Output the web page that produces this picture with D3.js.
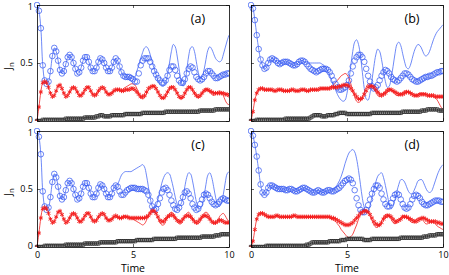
<!DOCTYPE html>
<html><head><meta charset="utf-8">
<script src="https://cdn.jsdelivr.net/npm/d3@7"></script>
<style>
body{margin:0;background:#fff;}
text{font-family:"Open Sans","Noto Sans",sans-serif;}
</style>
</head><body>
<svg id="chart" width="449" height="275"></svg>
<script>
// ---------- data ----------
const timeStep = 0.1;           // samples at t = 0, 0.1, ..., 10
const xDomain = [0, 10];
const yDomain = [0, 1];
const xTicks = [0, 5, 10];
const yTicks = [0, 0.5, 1];
const yTickLabels = ["0", "0.5", "1"];
const panelLabels = ["(a)", "(b)", "(c)", "(d)"];
const xLabel = "Time";

// panel (a)
const circA = [
1.00,0.95,0.80,0.48,0.35,0.32,0.34,0.43,0.56,0.63,
0.60,0.52,0.44,0.41,0.43,0.49,0.55,0.57,0.55,0.50,
0.45,0.41,0.42,0.46,0.52,0.55,0.55,0.51,0.46,0.43,
0.43,0.46,0.51,0.54,0.53,0.50,0.46,0.43,0.43,0.46,
0.51,0.54,0.52,0.47,0.42,0.39,0.38,0.38,0.38,0.37,
0.36,0.34,0.34,0.41,0.48,0.52,0.54,0.54,0.54,0.51,
0.47,0.43,0.40,0.37,0.35,0.33,0.33,0.35,0.39,0.44,
0.47,0.47,0.44,0.39,0.35,0.33,0.33,0.36,0.41,0.45,
0.47,0.46,0.42,0.38,0.36,0.35,0.36,0.38,0.41,0.43,
0.43,0.41,0.39,0.37,0.37,0.38,0.39,0.40,0.40,0.41,
0.41];
const starA = [
0.00,0.12,0.25,0.33,0.34,0.33,0.29,0.24,0.21,0.22,
0.26,0.30,0.31,0.28,0.24,0.21,0.22,0.25,0.28,0.29,
0.28,0.25,0.22,0.22,0.24,0.27,0.29,0.29,0.26,0.23,
0.22,0.23,0.26,0.28,0.29,0.28,0.25,0.23,0.23,0.24,
0.26,0.27,0.27,0.27,0.26,0.26,0.27,0.27,0.27,0.28,
0.28,0.27,0.25,0.23,0.21,0.21,0.22,0.25,0.28,0.29,
0.30,0.30,0.28,0.25,0.22,0.20,0.20,0.22,0.25,0.28,
0.29,0.29,0.27,0.24,0.21,0.20,0.21,0.24,0.27,0.29,
0.29,0.27,0.24,0.22,0.21,0.22,0.24,0.26,0.27,0.27,
0.26,0.25,0.24,0.24,0.24,0.24,0.24,0.24,0.23,0.23,
0.22];
const sqA = [
0.00,0.00,0.00,0.01,0.01,0.01,0.01,0.01,0.01,0.01,
0.01,0.01,0.01,0.01,0.01,0.02,0.02,0.02,0.02,0.02,
0.02,0.02,0.02,0.02,0.02,0.03,0.03,0.03,0.03,0.03,
0.03,0.04,0.04,0.05,0.05,0.04,0.04,0.04,0.04,0.05,
0.05,0.05,0.05,0.05,0.05,0.05,0.06,0.06,0.06,0.06,
0.06,0.06,0.06,0.06,0.06,0.07,0.07,0.07,0.07,0.07,
0.07,0.07,0.07,0.07,0.07,0.07,0.07,0.08,0.08,0.08,
0.08,0.08,0.08,0.08,0.08,0.08,0.08,0.08,0.08,0.08,
0.08,0.08,0.08,0.08,0.08,0.09,0.09,0.09,0.09,0.09,
0.09,0.09,0.09,0.10,0.10,0.10,0.10,0.10,0.10,0.10,
0.10];
const lineBlueA = circA.slice(0, 45).concat([
0.39,0.38,0.38,0.38,0.37,
0.37,0.38,0.43,0.48,0.54,0.59,0.63,0.64,0.62,0.57,
0.51,0.45,0.40,0.35,0.32,0.30,0.30,0.33,0.40,0.50,
0.60,0.66,0.64,0.56,0.45,0.35,0.30,0.33,0.44,0.56,
0.63,0.64,0.60,0.51,0.42,0.37,0.38,0.44,0.53,0.61,
0.64,0.62,0.58,0.54,0.52,0.51,0.52,0.57,0.63,0.69,
0.74]);
const lineRedA = starA.slice(0, 45).concat([
0.28,0.29,0.30,0.31,0.32,
0.32,0.31,0.28,0.24,0.20,0.19,0.20,0.23,0.27,0.29,
0.30,0.30,0.28,0.25,0.22,0.20,0.19,0.21,0.25,0.28,
0.30,0.29,0.27,0.24,0.21,0.19,0.20,0.23,0.27,0.29,
0.29,0.27,0.24,0.21,0.20,0.21,0.24,0.27,0.28,0.27,
0.25,0.23,0.22,0.23,0.25,0.26,0.25,0.22,0.18,0.15,
0.14]);

// panel (b)
const circB = [
1.00,0.97,0.87,0.74,0.62,0.53,0.48,0.45,0.46,0.50,
0.53,0.54,0.53,0.52,0.50,0.49,0.50,0.51,0.51,0.51,
0.50,0.49,0.48,0.48,0.49,0.51,0.52,0.52,0.51,0.49,
0.47,0.45,0.44,0.43,0.42,0.43,0.44,0.45,0.45,0.45,
0.44,0.42,0.39,0.35,0.32,0.29,0.27,0.27,0.28,0.29,
0.31,0.35,0.41,0.47,0.52,0.55,0.57,0.57,0.55,0.51,
0.45,0.39,0.34,0.30,0.28,0.29,0.31,0.35,0.39,0.42,
0.44,0.43,0.41,0.38,0.36,0.35,0.34,0.35,0.37,0.39,
0.41,0.41,0.40,0.38,0.36,0.35,0.34,0.34,0.35,0.36,
0.37,0.38,0.38,0.39,0.39,0.40,0.41,0.42,0.42,0.43,
0.43];
const starB = [
0.00,0.08,0.18,0.24,0.27,0.28,0.28,0.27,0.27,0.27,
0.27,0.27,0.26,0.26,0.27,0.27,0.27,0.26,0.26,0.26,
0.26,0.27,0.27,0.26,0.26,0.26,0.27,0.27,0.27,0.26,
0.26,0.27,0.27,0.27,0.27,0.27,0.28,0.28,0.28,0.28,
0.28,0.28,0.29,0.29,0.29,0.29,0.30,0.30,0.31,0.31,
0.31,0.30,0.28,0.26,0.23,0.21,0.19,0.19,0.20,0.23,
0.26,0.29,0.30,0.30,0.29,0.27,0.25,0.23,0.22,0.23,
0.24,0.26,0.27,0.27,0.26,0.25,0.24,0.23,0.23,0.23,
0.24,0.25,0.25,0.24,0.23,0.22,0.22,0.22,0.23,0.23,
0.23,0.23,0.22,0.22,0.22,0.22,0.21,0.21,0.21,0.21,
0.21];
const sqB = [
0.00,0.00,0.00,0.01,0.01,0.01,0.01,0.01,0.01,0.01,
0.01,0.01,0.01,0.01,0.01,0.01,0.01,0.01,0.02,0.02,
0.02,0.02,0.02,0.02,0.02,0.02,0.02,0.02,0.02,0.02,
0.02,0.03,0.04,0.05,0.05,0.05,0.05,0.04,0.04,0.04,
0.05,0.05,0.05,0.05,0.06,0.06,0.07,0.07,0.07,0.07,
0.06,0.06,0.06,0.06,0.06,0.06,0.06,0.06,0.06,0.06,
0.06,0.06,0.06,0.07,0.07,0.07,0.07,0.07,0.07,0.07,
0.07,0.07,0.07,0.07,0.07,0.07,0.07,0.07,0.07,0.08,
0.08,0.08,0.08,0.08,0.08,0.08,0.08,0.08,0.08,0.09,
0.09,0.09,0.10,0.10,0.10,0.10,0.10,0.10,0.09,0.09,
0.09];
const lineBlueB = circB.slice(0, 28).concat([
0.51,0.50,
0.50,0.50,0.50,0.50,0.50,0.50,0.50,0.49,0.48,0.46,
0.43,0.39,0.35,0.31,0.27,0.23,0.20,0.18,0.17,0.18,
0.24,0.35,0.48,0.60,0.68,0.70,0.66,0.56,0.42,0.28,
0.19,0.18,0.24,0.35,0.47,0.57,0.62,0.60,0.53,0.43,
0.34,0.29,0.30,0.37,0.47,0.58,0.66,0.68,0.65,0.58,
0.51,0.46,0.45,0.48,0.54,0.60,0.64,0.66,0.65,0.62,
0.58,0.56,0.57,0.60,0.65,0.70,0.74,0.77,0.79,0.81,
0.83]);
const lineRedB = starB.slice(0, 40).concat([
0.28,0.29,0.30,0.31,0.33,0.35,0.37,0.39,0.40,0.41,
0.40,0.37,0.32,0.26,0.21,0.17,0.16,0.17,0.20,0.25,
0.29,0.32,0.32,0.31,0.28,0.25,0.22,0.21,0.22,0.24,
0.26,0.28,0.28,0.27,0.25,0.23,0.22,0.22,0.23,0.25,
0.26,0.26,0.25,0.24,0.23,0.22,0.22,0.23,0.24,0.24,
0.24,0.23,0.22,0.21,0.21,0.21,0.20,0.18,0.15,0.12,
0.10]);

// panel (c)
const circC = [
1.00,0.95,0.80,0.48,0.35,0.32,0.34,0.43,0.56,0.63,
0.60,0.52,0.44,0.41,0.43,0.49,0.55,0.57,0.55,0.50,
0.45,0.41,0.42,0.46,0.52,0.55,0.55,0.51,0.46,0.43,
0.43,0.46,0.51,0.54,0.53,0.50,0.46,0.43,0.43,0.46,
0.51,0.53,0.52,0.48,0.45,0.45,0.47,0.49,0.50,0.51,
0.51,0.51,0.50,0.50,0.50,0.50,0.49,0.48,0.45,0.40,
0.35,0.32,0.33,0.37,0.42,0.47,0.50,0.51,0.49,0.45,
0.40,0.36,0.33,0.32,0.34,0.38,0.43,0.47,0.48,0.46,
0.42,0.37,0.34,0.32,0.33,0.37,0.41,0.45,0.46,0.45,
0.42,0.39,0.37,0.36,0.37,0.39,0.41,0.42,0.41,0.40,
0.40];
const starC = [
0.00,0.12,0.25,0.33,0.34,0.33,0.29,0.24,0.21,0.22,
0.26,0.30,0.31,0.28,0.24,0.21,0.22,0.25,0.28,0.29,
0.28,0.25,0.22,0.22,0.24,0.27,0.29,0.29,0.26,0.23,
0.22,0.23,0.26,0.28,0.29,0.28,0.25,0.23,0.23,0.24,
0.26,0.27,0.26,0.25,0.25,0.26,0.26,0.26,0.25,0.25,
0.25,0.25,0.25,0.25,0.25,0.25,0.25,0.26,0.27,0.29,
0.31,0.31,0.29,0.26,0.23,0.22,0.22,0.24,0.26,0.27,
0.28,0.27,0.25,0.23,0.22,0.22,0.24,0.26,0.27,0.27,
0.26,0.24,0.22,0.21,0.22,0.24,0.26,0.27,0.27,0.26,
0.24,0.22,0.21,0.21,0.22,0.23,0.23,0.22,0.21,0.21,
0.21];
const sqC = [
0.00,0.00,0.00,0.00,0.01,0.01,0.01,0.01,0.01,0.01,
0.01,0.01,0.01,0.01,0.01,0.02,0.02,0.02,0.02,0.02,
0.02,0.02,0.02,0.02,0.02,0.03,0.03,0.03,0.03,0.03,
0.03,0.03,0.03,0.04,0.04,0.04,0.04,0.04,0.04,0.04,
0.04,0.04,0.05,0.05,0.05,0.05,0.05,0.05,0.05,0.05,
0.05,0.05,0.06,0.06,0.06,0.06,0.06,0.06,0.06,0.06,
0.06,0.07,0.07,0.07,0.07,0.07,0.07,0.07,0.07,0.07,
0.07,0.07,0.07,0.08,0.08,0.08,0.08,0.08,0.08,0.08,
0.08,0.08,0.08,0.08,0.08,0.08,0.09,0.09,0.09,0.09,
0.09,0.09,0.09,0.10,0.10,0.10,0.11,0.11,0.11,0.11,
0.11];
const lineBlueC = circC.slice(0, 41).concat([
0.52,0.54,0.58,0.62,0.64,0.65,0.65,0.65,0.65,
0.66,0.67,0.68,0.69,0.70,0.71,0.69,0.62,0.52,0.42,
0.35,0.33,0.35,0.41,0.48,0.55,0.60,0.63,0.64,0.63,
0.58,0.51,0.43,0.37,0.35,0.37,0.43,0.52,0.60,0.64,
0.63,0.57,0.48,0.39,0.34,0.33,0.36,0.44,0.54,0.62,
0.64,0.60,0.52,0.43,0.37,0.35,0.38,0.45,0.55,0.63,
0.65]);
const lineRedC = starC.slice(0, 45).concat([
0.27,0.27,0.26,0.26,0.25,
0.24,0.23,0.22,0.21,0.20,0.19,0.20,0.23,0.27,0.31,
0.33,0.32,0.29,0.25,0.21,0.19,0.19,0.22,0.26,0.29,
0.30,0.29,0.26,0.22,0.20,0.20,0.23,0.27,0.29,0.30,
0.28,0.25,0.22,0.20,0.20,0.22,0.26,0.29,0.30,0.29,
0.26,0.22,0.20,0.20,0.22,0.26,0.28,0.29,0.27,0.24,
0.22]);

// panel (d)
const circD = [
1.00,0.96,0.88,0.78,0.66,0.54,0.47,0.45,0.47,0.51,
0.53,0.53,0.52,0.51,0.50,0.50,0.50,0.50,0.49,0.49,
0.50,0.50,0.49,0.48,0.48,0.49,0.50,0.51,0.51,0.50,
0.49,0.48,0.47,0.47,0.48,0.49,0.48,0.47,0.47,0.48,
0.49,0.49,0.48,0.48,0.49,0.50,0.51,0.53,0.55,0.57,
0.58,0.59,0.58,0.55,0.49,0.42,0.36,0.32,0.30,0.30,
0.32,0.36,0.41,0.46,0.50,0.53,0.53,0.51,0.46,0.41,
0.37,0.35,0.35,0.38,0.42,0.45,0.46,0.45,0.41,0.37,
0.34,0.33,0.34,0.37,0.41,0.44,0.45,0.44,0.42,0.39,
0.37,0.36,0.36,0.37,0.38,0.39,0.40,0.40,0.40,0.39,
0.39];
const starD = [
0.00,0.05,0.15,0.24,0.28,0.29,0.29,0.28,0.27,0.26,
0.26,0.26,0.26,0.27,0.27,0.26,0.26,0.26,0.26,0.26,
0.26,0.26,0.27,0.27,0.26,0.26,0.26,0.26,0.26,0.26,
0.26,0.26,0.26,0.26,0.26,0.26,0.26,0.26,0.26,0.26,
0.26,0.26,0.25,0.25,0.24,0.23,0.22,0.21,0.20,0.19,
0.19,0.19,0.20,0.21,0.23,0.25,0.27,0.29,0.30,0.31,
0.31,0.30,0.28,0.25,0.22,0.20,0.19,0.19,0.21,0.24,
0.26,0.27,0.27,0.26,0.24,0.22,0.22,0.23,0.24,0.26,
0.26,0.26,0.25,0.24,0.23,0.22,0.22,0.23,0.24,0.25,
0.25,0.24,0.23,0.22,0.22,0.22,0.22,0.21,0.21,0.20,
0.20];
const sqD = [
0.00,0.00,0.00,0.00,0.00,0.00,0.00,0.00,0.01,0.01,
0.01,0.01,0.01,0.01,0.01,0.01,0.01,0.01,0.01,0.01,
0.01,0.01,0.01,0.01,0.01,0.01,0.01,0.01,0.01,0.02,
0.02,0.03,0.04,0.04,0.04,0.04,0.04,0.04,0.04,0.04,
0.04,0.05,0.05,0.05,0.05,0.05,0.05,0.06,0.06,0.06,
0.07,0.07,0.07,0.07,0.07,0.07,0.07,0.07,0.07,0.06,
0.06,0.06,0.06,0.07,0.07,0.07,0.07,0.07,0.07,0.07,
0.07,0.07,0.07,0.07,0.07,0.07,0.07,0.07,0.08,0.08,
0.08,0.08,0.08,0.08,0.08,0.08,0.08,0.08,0.08,0.08,
0.09,0.09,0.09,0.10,0.10,0.10,0.10,0.11,0.11,0.11,
0.11];
const lineBlueD = circD.slice(0, 43).concat([
0.49,0.51,0.54,0.57,0.61,0.66,0.72,
0.77,0.81,0.83,0.84,0.82,0.76,0.66,0.54,0.42,0.34,
0.30,0.31,0.36,0.43,0.50,0.56,0.61,0.63,0.64,0.60,
0.53,0.45,0.37,0.33,0.35,0.41,0.48,0.54,0.58,0.58,
0.56,0.52,0.48,0.46,0.46,0.49,0.53,0.57,0.58,0.58,
0.55,0.51,0.48,0.47,0.48,0.52,0.57,0.62,0.66,0.69,
0.71]);
const lineRedD = starD.slice(0, 40).concat([
0.26,0.25,0.24,0.23,0.22,0.20,0.18,0.15,0.13,0.11,
0.09,0.08,0.09,0.11,0.15,0.19,0.24,0.28,0.31,0.32,
0.32,0.30,0.27,0.23,0.19,0.17,0.17,0.19,0.22,0.26,
0.28,0.28,0.27,0.24,0.21,0.20,0.21,0.23,0.25,0.27,
0.27,0.26,0.24,0.22,0.21,0.22,0.24,0.25,0.25,0.24,
0.22,0.20,0.20,0.21,0.22,0.21,0.20,0.18,0.17,0.16,
0.15]);

// ---------- layout ----------
const W = 192, H = 116;
const panels = [
  {label: panelLabels[0], circ: circA, star: starA, sq: sqA, lb: lineBlueA, lr: lineRedA, x0: 37,  y0: 5,   yLab: true,  xLab: false},
  {label: panelLabels[1], circ: circB, star: starB, sq: sqB, lb: lineBlueB, lr: lineRedB, x0: 251, y0: 5,   yLab: false, xLab: false},
  {label: panelLabels[2], circ: circC, star: starC, sq: sqC, lb: lineBlueC, lr: lineRedC, x0: 37,  y0: 131, yLab: true,  xLab: true},
  {label: panelLabels[3], circ: circD, star: starD, sq: sqD, lb: lineBlueD, lr: lineRedD, x0: 251, y0: 131, yLab: false, xLab: true}
];

const BLUE = "#3a5cf2", BLUE_L = "#4a6cf5", RED = "#f41c1c", BLACK = "#1e1e1e";
const svg = d3.select("#chart");
const x = d3.scaleLinear().domain(xDomain).range([0, W]);
const y = d3.scaleLinear().domain(yDomain).range([H, 0]);
const line = d3.line().x((d, i) => x(i * timeStep)).y(d => y(d)).curve(d3.curveCatmullRom);

panels.forEach((p, k) => {
  const g = svg.append("g").attr("transform", `translate(${p.x0},${p.y0})`);
  const cid = "clip" + k;
  g.append("clipPath").attr("id", cid).append("rect").attr("x", -3).attr("y", -3).attr("width", W + 3).attr("height", H + 3);
  const plot = g.append("g").attr("clip-path", `url(#${cid})`);

  // thin lines
  plot.append("path").attr("d", line(p.lb)).attr("fill", "none").attr("stroke", BLUE_L).attr("stroke-width", 0.8);
  plot.append("path").attr("d", line(p.lr)).attr("fill", "none").attr("stroke", RED).attr("stroke-width", 0.8);
  plot.append("path").attr("d", line(p.sq)).attr("fill", "none").attr("stroke", BLACK).attr("stroke-width", 0.6);

  // markers
  plot.append("g").selectAll("circle").data(p.circ).join("circle")
    .attr("cx", (d, i) => x(i * timeStep)).attr("cy", d => y(d)).attr("r", 2.8)
    .attr("fill", "none").attr("stroke", BLUE).attr("stroke-width", 0.75);
  const star = d3.symbol().type(d3.symbolAsterisk).size(14);
  plot.append("g").selectAll("path").data(p.star).join("path")
    .attr("transform", (d, i) => `translate(${x(i * timeStep)},${y(d)})`).attr("d", star)
    .attr("fill", "none").attr("stroke", RED).attr("stroke-width", 0.9);
  const sq = d3.symbol().type(d3.symbolSquare).size(11);
  plot.append("g").selectAll("path").data(p.sq).join("path")
    .attr("transform", (d, i) => `translate(${x(i * timeStep)},${y(d)})`).attr("d", sq)
    .attr("fill", "none").attr("stroke", BLACK).attr("stroke-width", 0.7);

  // axes (inward ticks)
  const axB = d3.axisBottom(x).tickValues(xTicks).tickSizeInner(-3).tickSizeOuter(0).tickPadding(5)
    .tickFormat(p.xLab ? d3.format("d") : () => "");
  const axT = d3.axisTop(x).tickValues(xTicks).tickSizeInner(-3).tickSizeOuter(0).tickFormat(() => "");
  const axL = d3.axisLeft(y).tickValues(yTicks).tickSizeInner(-3).tickSizeOuter(0).tickPadding(4)
    .tickFormat((d, i) => p.yLab ? yTickLabels[i] : "");
  const axR = d3.axisRight(y).tickValues(yTicks).tickSizeInner(-3).tickSizeOuter(0).tickFormat(() => "");
  [[axB, `translate(0,${H})`], [axT, "translate(0,0)"], [axL, "translate(0,0)"], [axR, `translate(${W},0)`]].forEach(([ax, tr]) => {
    const a = g.append("g").attr("transform", tr).call(ax);
    a.selectAll("path.domain").attr("stroke", "#000").attr("stroke-width", 0.8);
    a.selectAll(".tick line").attr("stroke", "#000").attr("stroke-width", 0.6);
    a.selectAll(".tick text").attr("font-size", 9).attr("fill", "#000")
      .style("font-family", '"Open Sans","Noto Sans",sans-serif');
    if (ax === axL) {
      // nudge end labels slightly so neighbouring panels' labels don't collide
      a.selectAll(".tick text").attr("y", d => d === 1 ? 1.5 : (d === 0 ? -1 : 0));
    }
  });

  // panel label
  g.append("text").attr("x", W - 31).attr("y", 18).attr("text-anchor", "middle")
    .attr("font-size", 12.5).text(p.label);

  if (p.yLab) {
    const t = svg.append("text").attr("transform", `translate(12,${p.y0 + H / 2 + 3}) rotate(-90)`)
      .attr("text-anchor", "middle").attr("font-size", 10.5);
    t.append("tspan").text("J");
    t.append("tspan").attr("font-size", 8).attr("dy", 2).text("n");
  }
  if (p.xLab) {
    svg.append("text").attr("x", p.x0 + W / 2).attr("y", 272).attr("text-anchor", "middle")
      .attr("font-size", 10.5).text(xLabel);
  }
});
</script>
</body></html>
